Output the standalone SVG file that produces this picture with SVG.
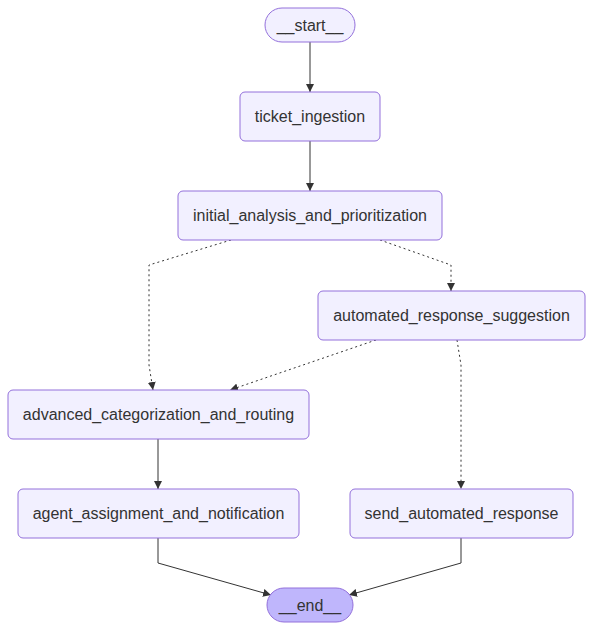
<svg xmlns="http://www.w3.org/2000/svg" width="593" height="630" viewBox="0 0 593 630">
<style>
.node rect{fill:#f2f0ff;stroke:#9370db;stroke-width:1}
.node.end rect{fill:#bfb6fc}
.node text{font-family:"Liberation Sans",Arial,sans-serif;font-size:16px;fill:#333;text-anchor:middle;dominant-baseline:central}
.edge{fill:none;stroke:#333;stroke-width:1}
.dot{stroke-dasharray:2 3}
</style>
<defs>
<marker id="arr" viewBox="0 0 10 10" refX="10" refY="5" markerWidth="8" markerHeight="8" markerUnits="userSpaceOnUse" orient="auto">
<path d="M0,0 L10,5 L0,10 z" fill="#333"/>
</marker>
</defs>
<rect width="593" height="630" fill="#fff"/>
<g id="edges">
<path class="edge" d="M310,42 L310,92" marker-end="url(#arr)"/>
<path class="edge" d="M310,141 L310,191" marker-end="url(#arr)"/>
<path class="edge dot" d="M231,240 L149,265 L149,365 L153,390" marker-end="url(#arr)"/>
<path class="edge dot" d="M380,240 L451,265 L451,291" marker-end="url(#arr)"/>
<path class="edge dot" d="M376,340 L230,390" marker-end="url(#arr)"/>
<path class="edge dot" d="M457,340 L461,365 L461,489" marker-end="url(#arr)"/>
<path class="edge" d="M158,439 L158,489" marker-end="url(#arr)"/>
<path class="edge" d="M158,538 L158,563 L271,595" marker-end="url(#arr)"/>
<path class="edge" d="M461,538 L461,563 L349,595" marker-end="url(#arr)"/>
</g>
<g id="start" class="node"><rect x="265" y="8" width="90" height="34" rx="17"/><text x="310" y="25">__start__</text></g>
<g id="ticket_ingestion" class="node"><rect x="240" y="92" width="140" height="49" rx="5"/><text x="310" y="116.5">ticket_ingestion</text></g>
<g id="initial_analysis_and_prioritization" class="node"><rect x="178" y="191" width="264" height="49" rx="5"/><text x="310" y="215.5">initial_analysis_and_prioritization</text></g>
<g id="automated_response_suggestion" class="node"><rect x="318" y="291" width="267" height="49" rx="5"/><text x="451.5" y="315.5">automated_response_suggestion</text></g>
<g id="advanced_categorization_and_routing" class="node"><rect x="8" y="390" width="301" height="49" rx="5"/><text x="158.5" y="414.5">advanced_categorization_and_routing</text></g>
<g id="agent_assignment_and_notification" class="node"><rect x="18" y="489" width="281" height="49" rx="5"/><text x="158.5" y="513.5">agent_assignment_and_notification</text></g>
<g id="send_automated_response" class="node"><rect x="350" y="489" width="223" height="49" rx="5"/><text x="461.5" y="513.5">send_automated_response</text></g>
<g id="end" class="node end"><rect x="267" y="588" width="86" height="34" rx="17"/><text x="310" y="605">__end__</text></g>
</svg>
